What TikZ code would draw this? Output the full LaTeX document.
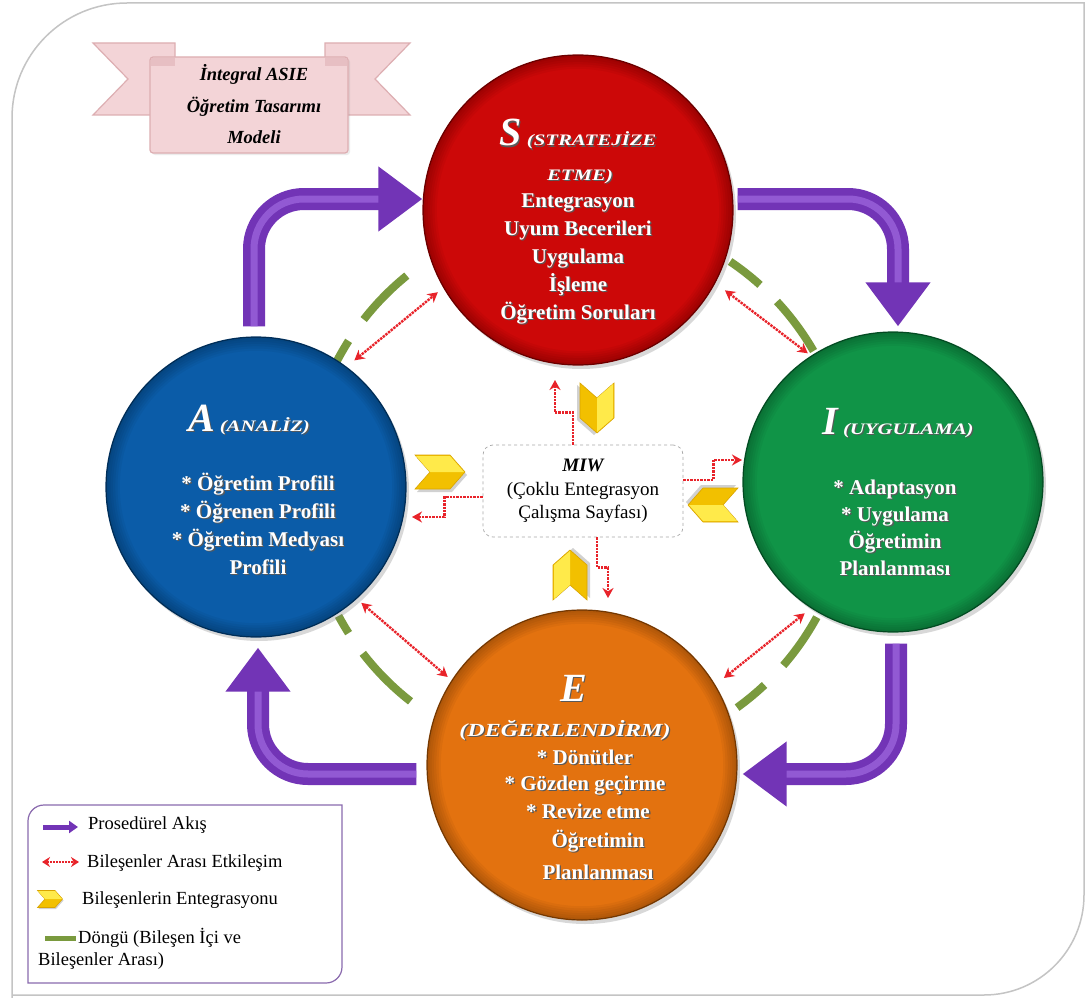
\documentclass[tikz,border=0pt]{standalone}
\usepackage{fontspec}
\setmainfont{Liberation Serif}
\newfontfamily\widecaps[FakeStretch=1.3]{Liberation Serif}
\usetikzlibrary{arrows.meta,calc,shadows}

\definecolor{redS}{HTML}{CC0808}
\definecolor{blueA}{HTML}{0B5CA8}
\definecolor{greenI}{HTML}{109447}
\definecolor{orangeE}{HTML}{E3720F}
\definecolor{flowpurple}{HTML}{7234B6}
\definecolor{flowlight}{HTML}{A06AE0}
\definecolor{linkred}{HTML}{E8232A}
\definecolor{loopgreen}{HTML}{7A9A3E}
\definecolor{chevlight}{HTML}{FFEA4A}
\definecolor{chevdark}{HTML}{F2C000}
\definecolor{chevedge}{HTML}{D9A400}
\definecolor{ribbon}{HTML}{F3D4D7}
\definecolor{ribbonedge}{HTML}{DDAEB2}
\definecolor{legendedge}{HTML}{8A6AAE}
\definecolor{framegray}{HTML}{C4C4C4}
\definecolor{miwedge}{HTML}{A8A8A8}

% white lettering with a small dark drop shadow
\newcommand\shadowed[1]{\makebox[0pt][l]{\hspace{1.3pt}\raisebox{-1.3pt}{\textcolor{black!65}{#1}}}#1}

\begin{document}
\begin{tikzpicture}[x=1pt, y=-1pt,
  phase/.style={circle, fill=#1, draw=#1!60!black, line width=1.2pt, inner sep=0pt,
    drop shadow={shadow xshift=3pt, shadow yshift=-4pt, opacity=0.3}},
  head/.style={text=white, font=\bfseries\itshape, anchor=base, inner sep=0pt},
  body/.style={text=white, font=\bfseries\fontsize{21}{24}\selectfont, anchor=base, inner sep=0pt},
  flow/.style={draw=flowpurple, line width=22pt, rounded corners=50pt,
    -{Triangle[length=44pt,width=62pt]},
    postaction={draw=flowlight, line width=7pt, opacity=0.7, shorten >=44pt, -}},
  link/.style={draw=linkred, line width=2.4pt, densely dotted,
    -{Stealth[length=10pt,width=11pt]}},
  link2/.style={draw=linkred, line width=2.4pt, densely dotted,
    {Stealth[length=10pt,width=11pt]}-{Stealth[length=10pt,width=11pt]}},
  loopdash/.style={draw=loopgreen, line width=8pt},
  legtext/.style={anchor=base west, inner sep=0pt, font=\fontsize{18.5}{20}\selectfont},
  chev/.pic={
    \fill[black, opacity=0.18, shift={(2,3)}] (-25,-17) -- (10,-17) -- (25,0) -- (10,17) -- (-25,17) -- (-10,0) -- cycle;
    \fill[chevdark, draw=chevedge, line width=0.6pt] (-25,-17) -- (10,-17) -- (25,0) -- (10,17) -- (-25,17) -- (-10,0) -- cycle;
    \fill[chevlight] (-24,-16) -- (10,-16) -- (24,0) -- (-10,0) -- cycle;
  },
]
\useasboundingbox (0,0) rectangle (1088,998);
\fill[white] (0,0) rectangle (1088,998);

% outer frame
\draw[framegray, line width=1.5pt] (12,998) -- (12,118) arc[start angle=180, end angle=270, radius=115]
  -- (1084,3) -- (1084,895) arc[start angle=0, end angle=90, radius=100] -- (12,995);

% title ribbon
\fill[ribbon, draw=ribbonedge, line width=1.2pt] (93,43) -- (175,43) -- (175,115) -- (93,115) -- (128,79) -- cycle;
\fill[ribbon, draw=ribbonedge, line width=1.2pt] (410,43) -- (325,43) -- (325,115) -- (410,115) -- (375,79) -- cycle;
\node[draw=ribbonedge, fill=ribbon, line width=1.2pt, rounded corners=3pt,
  minimum width=198pt, minimum height=96pt, inner sep=0pt,
  drop shadow={shadow xshift=2pt, shadow yshift=-2pt, opacity=0.15}] (title) at (249,105) {};
\fill[ribbonedge!55!ribbon] (151,58) rectangle (175,66);
\fill[ribbonedge!55!ribbon] (325,58) rectangle (347,66);
\node[anchor=base, inner sep=0pt, font=\bfseries\itshape\fontsize{18.5}{20}\selectfont] (t1) at (254,81) {İntegral ASIE};
\node[anchor=base, inner sep=0pt, font=\bfseries\itshape\fontsize{18.5}{20}\selectfont] (t2) at (254,113) {Öğretim Tasarımı};
\node[anchor=base, inner sep=0pt, font=\bfseries\itshape\fontsize{18.5}{20}\selectfont] (t3) at (254,143) {Modeli};

% cycle ring (green dashes between the phases)
\coordinate (hub) at (578,487);
\foreach \a/\b in {207/212.5, 218/231, 304/312, 317/330, 28.6/41, 46.7/54.2, 128/142.3, 147.5/151.7}
  \draw[loopdash] (hub) ++(\a:272) arc[start angle=\a, end angle=\b, radius=272];

% phase circles
\node[phase=redS, minimum size=310pt] (S) at (578,210) {};
\node[phase=blueA, minimum size=300pt] (A) at (256,487) {};
\node[phase=greenI, minimum size=300pt] (I) at (893,482) {};
\node[phase=orangeE, minimum size=310pt] (E) at (582,765) {};
\foreach \n/\r in {S/155, A/150, I/150, E/155}
  \foreach \k in {1,...,6}
    \fill[black, opacity=0.04, even odd rule] (\n.center) circle[radius=\r] circle[radius={\r-2.3*\k}];

% procedural flow
\draw[flow] ($(A.north)+(-2,-10)$) |- ($(S.west)+(0,-11)$);
\draw[flow] ($(S.east)+(4,-11)$) -| ($(I.north)+(5,-5)$);
\draw[flow] ($(I.south)+(3,11)$) |- ($(E.east)+(5,9)$);
\draw[flow] ($(E.west)+(-10,9)$) -| ($(A.south)+(2,10)$);

% S text
\node[head] (S-h1) at (578,146) {\shadowed{{\fontsize{40}{40}\selectfont S}\hspace{5pt}{\widecaps\fontsize{16}{16}\selectfont (STRATEJİZE}}};
\node[head, font=\widecaps\bfseries\itshape\fontsize{16}{16}\selectfont] (S-h2) at (580,180) {\shadowed{ETME)}};
\foreach \t [count=\i] in {Entegrasyon, Uyum Becerileri, Uygulama, İşleme, Öğretim Soruları}
  \node[body] (S-\i) at (578,{179+28*\i}) {\shadowed{\t}};

% A text
\node[head] (A-h) at (249,431) {\shadowed{{\fontsize{40}{40}\selectfont A}\hspace{5pt}{\widecaps\fontsize{16}{16}\selectfont (ANALİZ)}}};
\foreach \t [count=\i] in {* Öğretim Profili, * Öğrenen Profili, * Öğretim Medyası, Profili}
  \node[body] (A-\i) at (258,{462+28*\i}) {\shadowed{\t}};

% I text
\node[head] (I-h) at (898,434) {\shadowed{{\fontsize{40}{40}\selectfont I}\hspace{5pt}{\widecaps\fontsize{16}{16}\selectfont (UYGULAMA)}}};
\foreach \t [count=\i] in {* Adaptasyon, * Uygulama, Öğretimin, Planlanması}
  \node[body] (I-\i) at (895,{467+27*\i}) {\shadowed{\t}};

% E text
\node[head, font=\bfseries\itshape\fontsize{40}{40}\selectfont] (E-h1) at (574,701) {\shadowed{E}};
\node[head, font=\widecaps\bfseries\itshape\fontsize{18.5}{19}\selectfont] (E-h2) at (565,736) {\shadowed{(DEĞERLENDİRM)}};
\foreach \t/\x/\y [count=\i] in {* Dönütler/585/764, * Gözden geçirme/585/790, * Revize etme/588/818, Öğretimin/598/847, Planlanması/598/879}
  \node[body] (E-\i) at (\x,\y) {\shadowed{\t}};

% interaction between neighbouring phases
\draw[link2, shorten <=10pt, shorten >=7pt] (A.53) -- (S.210);
\draw[link2, shorten <=12pt, shorten >=4pt] (S.332) -- (I.123);
\draw[link2, shorten <=8pt, shorten >=11pt] (I.237) -- (E.31);
\draw[link2, shorten <=6pt, shorten >=5pt] (A.312) -- (E.147);

% multiple integration worksheet
\node[draw=miwedge, dashed, line width=0.7pt, rounded corners=10pt, fill=white,
  minimum width=200pt, minimum height=92pt, align=center, inner sep=2pt,
  font=\fontsize{19}{23.5}\selectfont] (M) at (583,491)
  {{\bfseries\itshape MIW}\\(Çoklu Entegrasyon\\Çalışma Sayfası)};

\coordinate (tS) at (555,380);
\coordinate (tA) at (412,517);
\coordinate (tI) at (742,460);
\coordinate (tE) at (608,598);
\draw[link] ([xshift=-10pt]M.north) -- ++(0,-32) -| (tS);
\draw[link] ([yshift=-6pt]M.west) -- ++(-38,0) |- (tA);
\draw[link] ([yshift=11pt]M.east) -- ++(30,0) |- (tI);
\draw[link] ([xshift=14pt]M.south) -- ++(0,30) -| (tE);

% integration chevrons
\pic at (440,472) {chev};
\pic[rotate=-90] at (597,408) {chev};
\pic[rotate=180] at (713,505) {chev};
\pic[rotate=90] at (570,575) {chev};

% legend
\draw[legendedge, line width=1.2pt] (28,983) -- (28,821) arc[start angle=180, end angle=270, radius=16]
  -- (342,805) -- (342,967) arc[start angle=0, end angle=90, radius=16] -- cycle;
\coordinate (lg1a) at (43,827);
\coordinate (lg1b) at (78,827);
\coordinate (lg2a) at (42,862);
\coordinate (lg2b) at (79,862);
\coordinate (lg4a) at (45,938);
\coordinate (lg4b) at (76,938);
\draw[draw=flowpurple, line width=5pt, -{Triangle[length=9pt,width=12pt]}] (lg1a) -- (lg1b);
\draw[draw=linkred, line width=2pt, densely dotted,
  {Stealth[length=8pt,width=10pt]}-{Stealth[length=8pt,width=10pt]}] (lg2a) -- (lg2b);
\pic[scale=0.5] at (50,899) {chev};
\draw[draw=loopgreen, line width=5pt] (lg4a) -- (lg4b);
\node[legtext] (L1) at (88,829) {Prosedürel Akış};
\node[legtext] (L2) at (87,867) {Bileşenler Arası Etkileşim};
\node[legtext] (L3) at (82,904) {Bileşenlerin Entegrasyonu};
\node[legtext] (L4) at (78,943) {Döngü (Bileşen İçi ve};
\node[legtext] (L5) at (38,965) {Bileşenler Arası)};
\end{tikzpicture}
\end{document}
